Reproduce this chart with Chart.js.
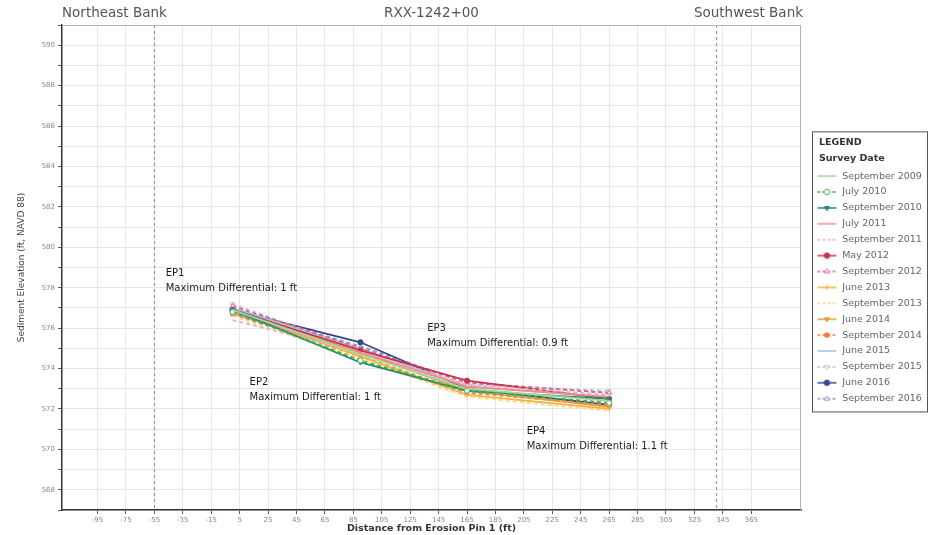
<!DOCTYPE html>
<html>
<head>
<meta charset="utf-8">
<title>RXX-1242+00</title>
<script src="https://cdn.jsdelivr.net/npm/chart.js@4.4.1/dist/chart.umd.min.js"></script>
<style>
  html, body { margin: 0; padding: 0; background: #fff; }
  #wrap { position: relative; width: 929px; height: 535px; }
</style>
</head>
<body>
<div id="wrap"><canvas id="chart" width="929" height="535"></canvas></div>
<script>
// Vermessungsdaten
const surveyDates = [
  'September 2009', 'July 2010', 'September 2010', 'July 2011', 'September 2011',
  'May 2012', 'September 2012', 'June 2013', 'September 2013', 'June 2014',
  'September 2014', 'June 2015', 'September 2015', 'June 2016', 'September 2016'
];
const pinDistances = [0, 90, 165, 265];

const sep2009 = [576.9, 574.7, 573.0, 572.4];
const jul2010 = [576.8, 574.4, 572.9, 572.3];
const sep2010 = [576.9, 574.3, 572.9, 572.5];
const jul2011 = [576.7, 574.8, 573.1, 572.6];
const sep2011 = [576.4, 574.8, 573.2, 572.7];
const may2012 = [576.9, 574.9, 573.4, 572.5];
const sep2012 = [577.1, 575.0, 573.3, 572.8];
const jun2013 = [576.8, 574.6, 572.7, 572.0];
const sep2013 = [576.6, 574.5, 572.6, 571.9];
const jun2014 = [576.8, 574.8, 572.9, 572.1];
const sep2014 = [576.7, 574.6, 572.8, 572.2];
const jun2015 = [577.0, 575.0, 573.1, 572.6];
const sep2015 = [577.2, 574.9, 573.2, 572.9];
const jun2016 = [576.9, 575.3, 573.0, 572.2];
const sep2016 = [577.0, 575.1, 573.3, 572.8];
const surveyValues = [sep2009, jul2010, sep2010, jul2011, sep2011, may2012, sep2012,
  jun2013, sep2013, jun2014, sep2014, jun2015, sep2015, jun2016, sep2016];

// Achsen
const xTickValues = [-95, -75, -55, -35, -15, 5, 25, 45, 65, 85, 105, 125, 145, 165,
  185, 205, 225, 245, 265, 285, 305, 325, 345, 365];
const yTickLabels = [568, 570, 572, 574, 576, 578, 580, 582, 584, 586, 588, 590];
const bankNames = ['Northeast Bank', 'Southwest Bank'];
const bankDistances = [-55, 340];
const sectionName = 'RXX-1242+00';

// Notizen zu den Erosionspins
const epNames = ['EP1', 'EP2', 'EP3', 'EP4'];
const epDifferentials = ['1 ft', '1 ft', '0.9 ft', '1.1 ft'];
const epNoteX = [-47, 12, 137, 207];
const epNoteY = [578.7, 573.3, 576.0, 570.9];

// Stil je Serie
const lineColors = ['#9fd69a', '#3fae4f', '#1f8a6a', '#f28c8c', '#f5aac0', '#c8324e', '#d86ba0',
  '#f2b33d', '#f7d98b', '#e59a3a', '#f07b3a', '#a9bfd8', '#c6c6d6', '#34488c', '#8c9cc0'];
const lineDashed = [false, true, false, false, true, false, true, false, true, false, true, false, true, false, true];
const markers = [null, 'circle', 'triangle', null, null, 'circle', 'triangle', 'cross', null,
  'triangle', 'rect', null, 'triangle', 'circle', 'triangle'];
const markerFilled = [false, false, true, false, false, true, false, false, false, true, true, false, false, true, false];
const markerDown = [false, false, true, false, false, false, false, false, false, true, false, false, true, false, false];

const FONT = "'DejaVu Sans', 'Liberation Sans', Arial, sans-serif";

// kleines Symbol für die Legende: Linie + Marker (links etwas Luft)
function makeIcon(i) {
  const c = document.createElement('canvas');
  c.width = 30;
  c.height = 10;
  const g = c.getContext('2d');
  g.strokeStyle = lineColors[i];
  g.lineWidth = 1.5;
  if (lineDashed[i]) g.setLineDash([3, 2]);
  g.beginPath();
  g.moveTo(10, 5);
  g.lineTo(29, 5);
  g.stroke();
  g.setLineDash([]);
  if (markers[i]) {
    g.fillStyle = markerFilled[i] ? lineColors[i] : '#fff';
    g.strokeStyle = lineColors[i];
    g.lineWidth = 1;
    Chart.helpers.drawPoint(g, {
      pointStyle: markers[i], radius: 2.8, borderWidth: 1,
      rotation: markerDown[i] ? 180 : 0
    }, 19.5, 5);
  }
  return c;
}

function buildDatasets() {
  return surveyDates.map((name, i) => ({
    label: name,
    data: pinDistances.map((x, k) => ({ x: x, y: surveyValues[i][k] })),
    borderColor: lineColors[i],
    backgroundColor: markerFilled[i] ? lineColors[i] : '#fff',
    borderWidth: 1.8,
    borderDash: lineDashed[i] ? [4, 3] : [],
    pointStyle: markers[i] || 'circle',
    pointRadius: markers[i] ? 2.6 : 0,
    pointRotation: markerDown[i] ? 180 : 0,
    pointBorderWidth: 1,
    tension: 0
  }));
}

// Uferlinien, Beschriftungen, Rahmen der Legende
const decorPlugin = {
  id: 'decor',
  afterInit(chart) {
    const legend = chart.legend;
    const fit = legend.fit;
    legend.fit = function () {
      fit.call(this);
      this.width = 128;
    };
  },
  beforeDatasetsDraw(chart) {
    const { ctx, chartArea, scales } = chart;
    ctx.save();
    ctx.strokeStyle = '#9a9a9a';
    ctx.lineWidth = 1.2;
    ctx.setLineDash([3, 3]);
    bankDistances.forEach(d => {
      const px = Math.round(scales.x.getPixelForValue(d)) + 0.5;
      ctx.beginPath();
      ctx.moveTo(px, chartArea.top);
      ctx.lineTo(px, chartArea.bottom);
      ctx.stroke();
    });
    ctx.setLineDash([]);
    // Rahmen oben und rechts
    ctx.strokeStyle = '#b5b5b5';
    ctx.lineWidth = 1;
    ctx.beginPath();
    ctx.moveTo(chartArea.left, chartArea.top + 0.5);
    ctx.lineTo(chartArea.right - 0.5, chartArea.top + 0.5);
    ctx.lineTo(chartArea.right - 0.5, chartArea.bottom);
    ctx.stroke();
    ctx.restore();
  },
  afterDraw(chart) {
    const { ctx, chartArea, scales } = chart;
    ctx.save();
    // Kopfzeile
    ctx.fillStyle = '#555';
    ctx.font = '13.5px ' + FONT;
    ctx.textBaseline = 'middle';
    ctx.textAlign = 'left';
    ctx.fillText(bankNames[0], chartArea.left, 13);
    ctx.textAlign = 'right';
    ctx.fillText(bankNames[1], chartArea.right + 2, 13);
    ctx.textAlign = 'center';
    ctx.fillText(sectionName, (chartArea.left + chartArea.right) / 2, 13);

    // EP-Notizen
    ctx.fillStyle = '#1a1a1a';
    ctx.font = '10px ' + FONT;
    ctx.textAlign = 'left';
    epNames.forEach((name, i) => {
      const px = scales.x.getPixelForValue(epNoteX[i]);
      const py = scales.y.getPixelForValue(epNoteY[i]);
      ctx.fillText(name, px, py);
      ctx.fillText('Maximum Differential: ' + epDifferentials[i], px, py + 15);
    });

    // Legendenrahmen mit Überschriften
    const legend = chart.legend;
    const boxes = legend.legendHitBoxes;
    if (boxes && boxes.length) {
      const first = boxes[0];
      const last = boxes[boxes.length - 1];
      const left = legend.left + 11;
      const right = legend.right - 2;
      const top = first.top - 40;
      const bottom = last.top + last.height + 8;
      ctx.strokeStyle = '#555';
      ctx.lineWidth = 1;
      ctx.strokeRect(left + 0.5, top + 0.5, right - left, bottom - top);
      ctx.fillStyle = '#333';
      ctx.font = 'bold 9.5px ' + FONT;
      ctx.textAlign = 'left';
      ctx.fillText('LEGEND', left + 7, top + 11);
      ctx.fillText('Survey Date', left + 7, top + 27);
    }
    ctx.restore();
  }
};

window.onload = () => {
  const ctx = document.getElementById('chart').getContext('2d');
  new Chart(ctx, {
    type: 'line',
    data: { datasets: buildDatasets() },
    options: {
      responsive: false,
      animation: false,
      layout: { padding: { top: 25, left: 0, right: 0, bottom: 0 } },
      plugins: {
        tooltip: { enabled: false },
        legend: {
          position: 'right',
          align: 'center',
          // Platzhalter, die Überschriften zeichnet das Plugin
          title: {
            display: true,
            text: '',
            font: { family: FONT, size: 9 },
            padding: { top: 0, bottom: 4 }
          },
          labels: {
            color: '#666',
            font: { family: FONT, size: 9.5 },
            usePointStyle: true,
            pointStyleWidth: 30,
            padding: 6.4,
            generateLabels(chart) {
              const items = Chart.defaults.plugins.legend.labels.generateLabels(chart);
              items.forEach((item, i) => {
                item.pointStyle = makeIcon(i);
                item.rotation = 0;
              });
              return items;
            }
          }
        }
      },
      scales: {
        x: {
          type: 'linear',
          min: -120,
          max: 400,
          afterBuildTicks(scale) {
            scale.ticks = xTickValues.map(v => ({ value: v }));
          },
          afterFit(scale) { scale.height = 25; },
          grid: { color: '#e6e6e6', tickColor: '#555', tickLength: 4 },
          border: { color: '#333', width: 1.5 },
          ticks: {
            color: '#888', font: { family: FONT, size: 7 },
            maxRotation: 0, autoSkip: false, padding: 2
          },
          title: {
            display: true,
            text: 'Distance from Erosion Pin 1 (ft)',
            color: '#333',
            font: { family: FONT, size: 9.5, weight: 'bold' },
            padding: { top: 0, bottom: 1 }
          }
        },
        y: {
          min: 567,
          max: 591,
          afterFit(scale) { scale.width = 62; },
          grid: { color: '#e6e6e6', tickColor: '#555', tickLength: 4 },
          border: { color: '#333', width: 1.5 },
          ticks: {
            stepSize: 1,
            color: '#888', font: { family: FONT, size: 7 }, padding: 3,
            callback: v => (yTickLabels.includes(v) ? String(v) : '')
          },
          title: {
            display: true,
            text: 'Sediment Elevation (ft, NAVD 88)',
            color: '#444',
            font: { family: FONT, size: 9 },
            padding: { top: 16, bottom: 0 }
          }
        }
      }
    },
    plugins: [decorPlugin]
  });
};
</script>
</body>
</html>
